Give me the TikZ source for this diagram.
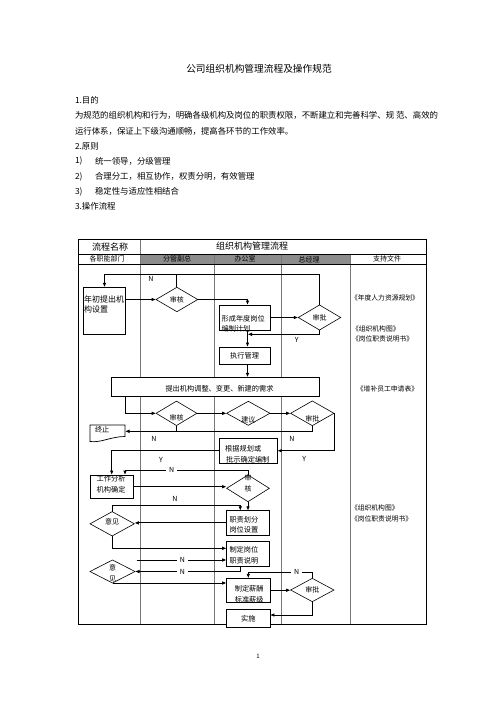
\documentclass[tikz,border=0pt]{standalone}
\usepackage{fontspec}
\setmainfont{Noto Sans CJK SC}
\usetikzlibrary{arrows.meta,calc}
\definecolor{hdrgray}{RGB}{140,140,140}
\definecolor{colgray}{RGB}{120,120,120}
\begin{document}
\begin{tikzpicture}[x=1pt,y=-1pt,
  every node/.style={inner sep=0pt,outer sep=0pt},
  para/.style={anchor=west,font=\fontsize{8.4}{10}\selectfont},
  box/.style={draw,fill=white,line width=0.7pt,align=left,font=\fontsize{7.2}{10.5}\selectfont},
  dia/.style={align=center,font=\fontsize{7}{11}\selectfont},
  dline/.style={line width=0.6pt},
  conn/.style={line width=0.9pt,-{Latex[length=4.5pt,width=3.6pt]}},
  plain/.style={line width=0.9pt},
  lbl/.style={font=\fontsize{7}{8}\selectfont},
  lblw/.style={font=\fontsize{7}{8}\selectfont,fill=white,inner xsep=3pt,inner ysep=1pt},
  hcell/.style={font=\fontsize{7}{8}\selectfont},
  doc/.style={font=\fontsize{6.8}{8}\selectfont}
]
\useasboundingbox (0,0) rectangle (496,702);
\fill[white] (0,0) rectangle (496,702);

% ---------- text above ----------
\node[font=\fontsize{9.7}{11}\selectfont] (title) at (259,68.3) {公司组织机构管理流程及操作规范};
\node[para] (p1) at (75,100) {1.目的};
\node[para] (p2) at (75,115.5) {为规范的组织机构和行为，明确各级机构及岗位的职责权限，不断建立和完善科学、规 范、高效的};
\node[para] (p3) at (75,131) {运行体系，保证上下级沟通顺畅，提高各环节的工作效率。};
\node[para] (p4) at (75,146.7) {2.原则};
\node[para] (p5a) at (75,161) {1)};
\node[para] (p5b) at (95,161) {统一领导，分级管理};
\node[para] (p6a) at (75,176.7) {2)};
\node[para] (p6b) at (95,176.7) {合理分工，相互协作，权责分明，有效管理};
\node[para] (p7a) at (75,191.7) {3)};
\node[para] (p7b) at (95,191.7) {稳定性与适应性相结合};
\node[para] (p8) at (75,206.7) {3.操作流程};
\node[font=\fontsize{6}{7}\selectfont] (pg) at (258,656) {1};

% ---------- table frame ----------
\fill[hdrgray] (140,254) rectangle (350.5,264.3);
\draw[colgray,line width=0.9pt] (140,239.3) -- (140,624.3);
\foreach \x in {214,281.7,350.5} \draw[colgray,line width=0.9pt] (\x,254) -- (\x,624.3);
\draw[line width=0.6pt] (78.3,254) -- (426.7,254);
\draw[line width=0.6pt] (78.3,264.3) -- (426.7,264.3);
\draw[line width=1.2pt] (78.3,239.3) rectangle (426.7,624.3);

\node[font=\fontsize{9}{10}\selectfont] (hA) at (110,247) {流程名称};
\node[font=\fontsize{9}{10}\selectfont] (hB) at (252,246.5) {组织机构管理流程};
\node[hcell] (c1) at (107,259.3) {各职能部门};
\node[hcell] (c2) at (177,259.3) {分管副总};
\node[hcell] (c3) at (245,259.3) {办公室};
\node[hcell] (c4) at (309,259.3) {总经理};
\node[hcell] (c5) at (387,259.3) {支持文件};

% ---------- support documents ----------
\node[doc] (s1) at (385,298.3) {《年度人力资源规划》};
\node[doc,anchor=west] (s2) at (352,329.3) {《组织机构图》};
\node[doc,anchor=west] (s3) at (352,339.3) {《岗位职责说明书》};
\node[doc] (s4) at (387.5,389.3) {《增补员工申请表》};
\node[doc,anchor=west] (s5) at (351,508.3) {《组织机构图》};
\node[doc,anchor=west] (s6) at (351,519.3) {《岗位职责说明书》};

% ---------- boxes ----------
\node[box,font=\fontsize{8}{9.5}\selectfont,minimum width=42.4pt,minimum height=46.7pt,text width=41pt,text height=7pt,text depth=22.8pt] (b1) at (104.5,310.7) {年初提出机\\构设置};
\node[box,minimum width=50.7pt,minimum height=25pt,text width=46pt,text height=13.4pt,text depth=6pt] (b2) at (244.6,317.5) {形成年度岗位\\编制计划};
\node[box,align=center,minimum width=50.7pt,minimum height=17pt] (b3) at (244.6,355.5) {执行管理};
\node[box,align=center,minimum width=208pt,minimum height=18.7pt,text height=11pt,text depth=0.9pt] (b4) at (215,386.7) {\hspace*{9pt}提出机构调整、变更、新建的需求};
\node[box,minimum width=58pt,minimum height=25pt,text width=46pt,text height=7.5pt,text depth=5.4pt] (b5) at (248.2,450.7) {根据规划或\\\hspace*{1pt}批示确定编制};
\node[box,minimum width=43.3pt,minimum height=23.3pt,text width=30pt,text height=6pt,text depth=15.9pt] (b6) at (111.7,486.7) {工作分析\\机构确定};
\node[box,minimum width=42.7pt,minimum height=24.3pt,text width=37pt,text height=6pt,text depth=7.6pt] (b7) at (248,522.9) {职责划分\\岗位设置};
\node[box,minimum width=42.7pt,minimum height=25pt,text width=37pt,text height=6pt,text depth=8.9pt] (b8) at (248,554.2) {制定岗位\\职责说明};
\node[box,minimum width=43.3pt,minimum height=23.7pt,text width=27pt,text height=7.5pt,text depth=4.3pt] (b9) at (248.3,590.2) {制定薪酬\\标准薪级};
\node[box,align=center,minimum width=43.3pt,minimum height=18.7pt] (b10) at (248.3,618.3) {实施};

% terminator (document shape)
\node[font=\fontsize{7.2}{8}\selectfont,align=left,minimum width=35pt,minimum height=16pt,text width=25pt,text height=6pt,text depth=7.9pt] (e) at (107.5,433) {终止};
\draw[line width=0.7pt] (e.north west) -- (e.north east) -- (125,436.5) .. controls (111,436.5) and (101,443) .. (90,441.5) -- cycle;

% ---------- decisions ----------
\node[dia,minimum width=41.7pt,minimum height=24.4pt] (d1) at (176.9,299.5) {审核};
\node[dia,minimum width=42.4pt,minimum height=25pt] (d2) at (319.5,317.5) {审批};
\node[dia,minimum width=40.7pt,minimum height=24.4pt,text height=15.7pt,text depth=0.8pt] (d3) at (176.5,413.3) {审核};
\node[dia,minimum width=43.3pt,minimum height=24pt,text height=19pt,text depth=0.7pt] (d4) at (248.3,413.3) {建议};
\node[dia,minimum width=43.3pt,minimum height=24.7pt,text height=18pt,text depth=0.7pt] (d5) at (312.3,413.3) {审批};
\node[dia,minimum width=42.7pt,minimum height=26.7pt,text height=13pt,text depth=5.7pt] (d6) at (248,488.3) {审\\核};
\node[dia,minimum width=44.3pt,minimum height=24.3pt,text height=6pt,text depth=4.9pt] (d7) at (112.2,523.8) {意见};
\node[dia,minimum width=45pt,minimum height=23pt,text height=21.4pt,text depth=0.6pt] (d8) at (112.5,571.5) {意\\见};
\node[dia,minimum width=43.3pt,minimum height=23.3pt] (d9) at (312.3,590) {审批};
\foreach \n in {d1,d2,d3,d4,d5,d6,d7,d8,d9}
  \draw[dline] (\n.north) -- (\n.east) -- (\n.south) -- (\n.west) -- cycle;

% ---------- helper coordinates ----------
\coordinate (oc) at (247.5,0);
\coordinate (ytop) at (0,274.3);
\coordinate (yy1) at (0,334.3);
\coordinate (yn1) at (0,431.3);
\coordinate (yn2) at (0,470);
\coordinate (yn3) at (0,505.7);
\coordinate (yn4) at (0,572);
\coordinate (xa) at (125.7,0);
\coordinate (xb) at (125,0);
\coordinate (xc) at (240.3,0);
\coordinate (ya) at (0,548.3);
\coordinate (yb) at (0,560);
\coordinate (yc) at (0,615);
\coordinate (nfree) at (136.7,560);

% ---------- connectors ----------
\draw[conn] (d2.north) -- (d2.north |- ytop) -| (b1.north);
\draw[plain] (d1.north) -- (d1.north |- ytop);
\draw[conn] (b1.east |- d1.west) -- (d1.west);
\draw[conn] (d1.east) -| (oc |- b2.north);
\draw[conn] (b2.east |- d2.west) -- (d2.west);
\draw[conn] (d2.south) |- (oc |- yy1);
\draw[conn] (oc |- b2.south) -- (oc |- b3.north);
\draw[conn] (oc |- b3.south) -- (oc |- b4.north);
\draw[conn] (xa |- b4.south) |- (d3.west);
\draw[conn] (d3.east) -- (d4.west);
\draw[conn] (d4.east) -- (d5.west);
\draw[conn] (d5.south) |- (e.east |- yn1);
\draw[plain] (d3.south) -- (d3.south |- yn1);
\draw[conn] (d5.east) -- (d5.east |- b5.east) -- (b5.east);
\draw[conn] (b5.west) -| (b6.north);
\draw[conn] (d6.north) -- (d6.north |- yn2) -| (xb |- b6.north);
\draw[conn] (b6.east) -- (b6.east -| d6.west);
\draw[conn] (d6.south) -- (d6.south |- b7.north);
\draw[conn] (d7.north) -- (d7.north |- yn3) -| (xc |- b7.north);
\draw[conn] (b7.west) -- (b7.west -| d7.east);
\draw[conn] (d7.south) |- (b8.west |- ya);
\draw[conn] (nfree) -- (b8.west |- yb);
\draw[conn] (xc |- b8.south) |- (d8.east);
\draw[conn] (d8.south) -- (d8.south -| b9.west);
\draw[conn] (d9.north) -- (d9.north |- yn4) -| (b9.north);
\draw[conn] (b9.east) -- (b9.east -| d9.west);
\draw[conn] (d9.south) |- (b10.east |- yc);

% ---------- labels ----------
\node[lbl] (l1) at (151,279) {N};
\node[lbl] (l2) at (296.7,340) {Y};
\node[lbl] (l3) at (154,438.5) {N};
\node[lbl] (l4) at (292,438.5) {N};
\node[lbl] (l5) at (304.3,459) {Y};
\node[lbl] (l6) at (161,460) {Y};
\node[lblw] (l7) at (171.7,470) {N};
\node[lbl] (l8) at (175,499) {N};
\node[lblw] (l9) at (182.3,560) {N};
\node[lblw] (l10) at (182.3,571.5) {N};
\node[lblw] (l11) at (296.7,572) {N};
\end{tikzpicture}
\end{document}
